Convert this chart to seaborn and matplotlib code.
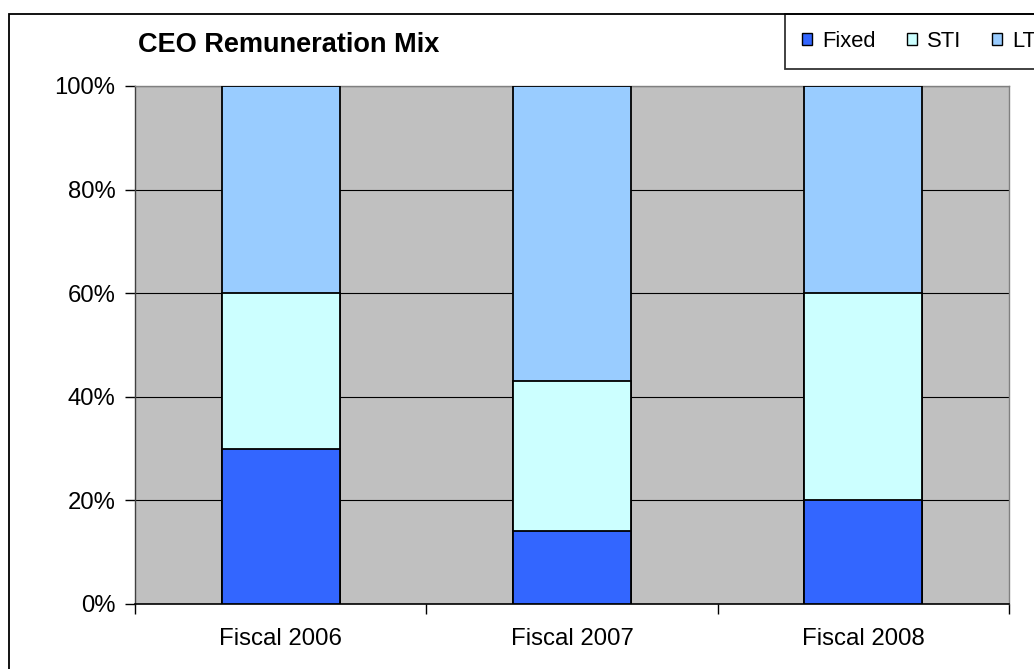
import matplotlib
matplotlib.use("Agg")
import matplotlib.pyplot as plt
import seaborn as sns
import numpy as np
from matplotlib.patches import Rectangle, Patch
from matplotlib.ticker import FixedLocator, PercentFormatter

categories = ["Fiscal 2006", "Fiscal 2007", "Fiscal 2008"]
fixed = [30, 14, 20]
sti = [30, 29, 40]
lti = [40, 57, 40]
series_names = ["Fixed", "STI", "LTI"]
colors = ["#3366FF", "#CCFFFF", "#99CCFF"]
yticks = [0, 20, 40, 60, 80, 100]

sns.set_theme(style="white")
plt.rcParams["font.family"] = ["Liberation Sans", "DejaVu Sans"]
plt.rcParams["text.color"] = "black"
plt.rcParams["xtick.color"] = "black"
plt.rcParams["ytick.color"] = "black"
plt.rcParams["axes.labelcolor"] = "black"

W, H = 1034, 669
fig = plt.figure(figsize=(W / 100, H / 100), dpi=100)
ax = fig.add_axes([135 / W, (H - 604) / H, 874 / W, 518 / H])
ax.set_facecolor("#C0C0C0")

c1 = np.array(fixed)
c2 = c1 + np.array(sti)
c3 = c2 + np.array(lti)
for vals, col in zip([c3, c2, c1], colors[::-1]):
    sns.barplot(x=categories, y=vals, color=col, width=0.405, edgecolor="black",
                linewidth=1.3, saturation=1, ax=ax, zorder=3)

ax.set_xlim(-0.5, 2.5)
ax.set_ylim(0, 100)
ax.set_yticks(yticks)
ax.yaxis.set_major_formatter(PercentFormatter(decimals=0))
ax.yaxis.grid(True, color="black", linewidth=0.8)
ax.set_axisbelow(True)
ax.set_xlabel("")
ax.set_ylabel("")

ax.xaxis.set_minor_locator(FixedLocator([-0.5, 0.5, 1.5, 2.5]))
ax.tick_params(axis="x", which="major", length=0, pad=17, labelsize=17.3, labelcolor="black")
ax.tick_params(axis="x", which="minor", length=7, width=1, color="black", direction="out", bottom=True)
ax.tick_params(axis="y", which="major", length=7, width=1, color="black", direction="out",
               left=True, pad=7, labelsize=17.2, labelcolor="black")

for s in ["top", "right"]:
    ax.spines[s].set_color("#808080")
    ax.spines[s].set_linewidth(1)
ax.spines["left"].set_color("#404040")
ax.spines["left"].set_linewidth(1)
ax.spines["bottom"].set_color("black")
ax.spines["bottom"].set_linewidth(1.2)

# figure border (clipped at right/bottom)
fig.patches.append(Rectangle((9 / W, -0.1), 2, 1 - 14 / H + 0.1, transform=fig.transFigure,
                             fill=False, edgecolor="black", linewidth=1.3, zorder=10))

fig.text(138 / W, 1 - 45 / H, "CEO Remuneration Mix", fontsize=19.5, fontweight="bold",
         va="center", ha="left", color="black")

handles = [Patch(facecolor=c, edgecolor="black", linewidth=1) for c in colors]
leg = fig.legend(handles, series_names, loc="upper left", bbox_to_anchor=(785 / W, 1 - 14 / H),
                 ncol=3, fontsize=15.8, frameon=True, fancybox=False, borderaxespad=0,
                 handlelength=0.46, handleheight=0.46, handletextpad=0.45, columnspacing=1.42,
                 borderpad=0.78)
leg.get_frame().set_edgecolor("black")
leg.get_frame().set_linewidth(1.3)
leg.get_frame().set_facecolor("white")
for t in leg.get_texts():
    t.set_color("black")

fig.savefig("out.png", dpi=100)
